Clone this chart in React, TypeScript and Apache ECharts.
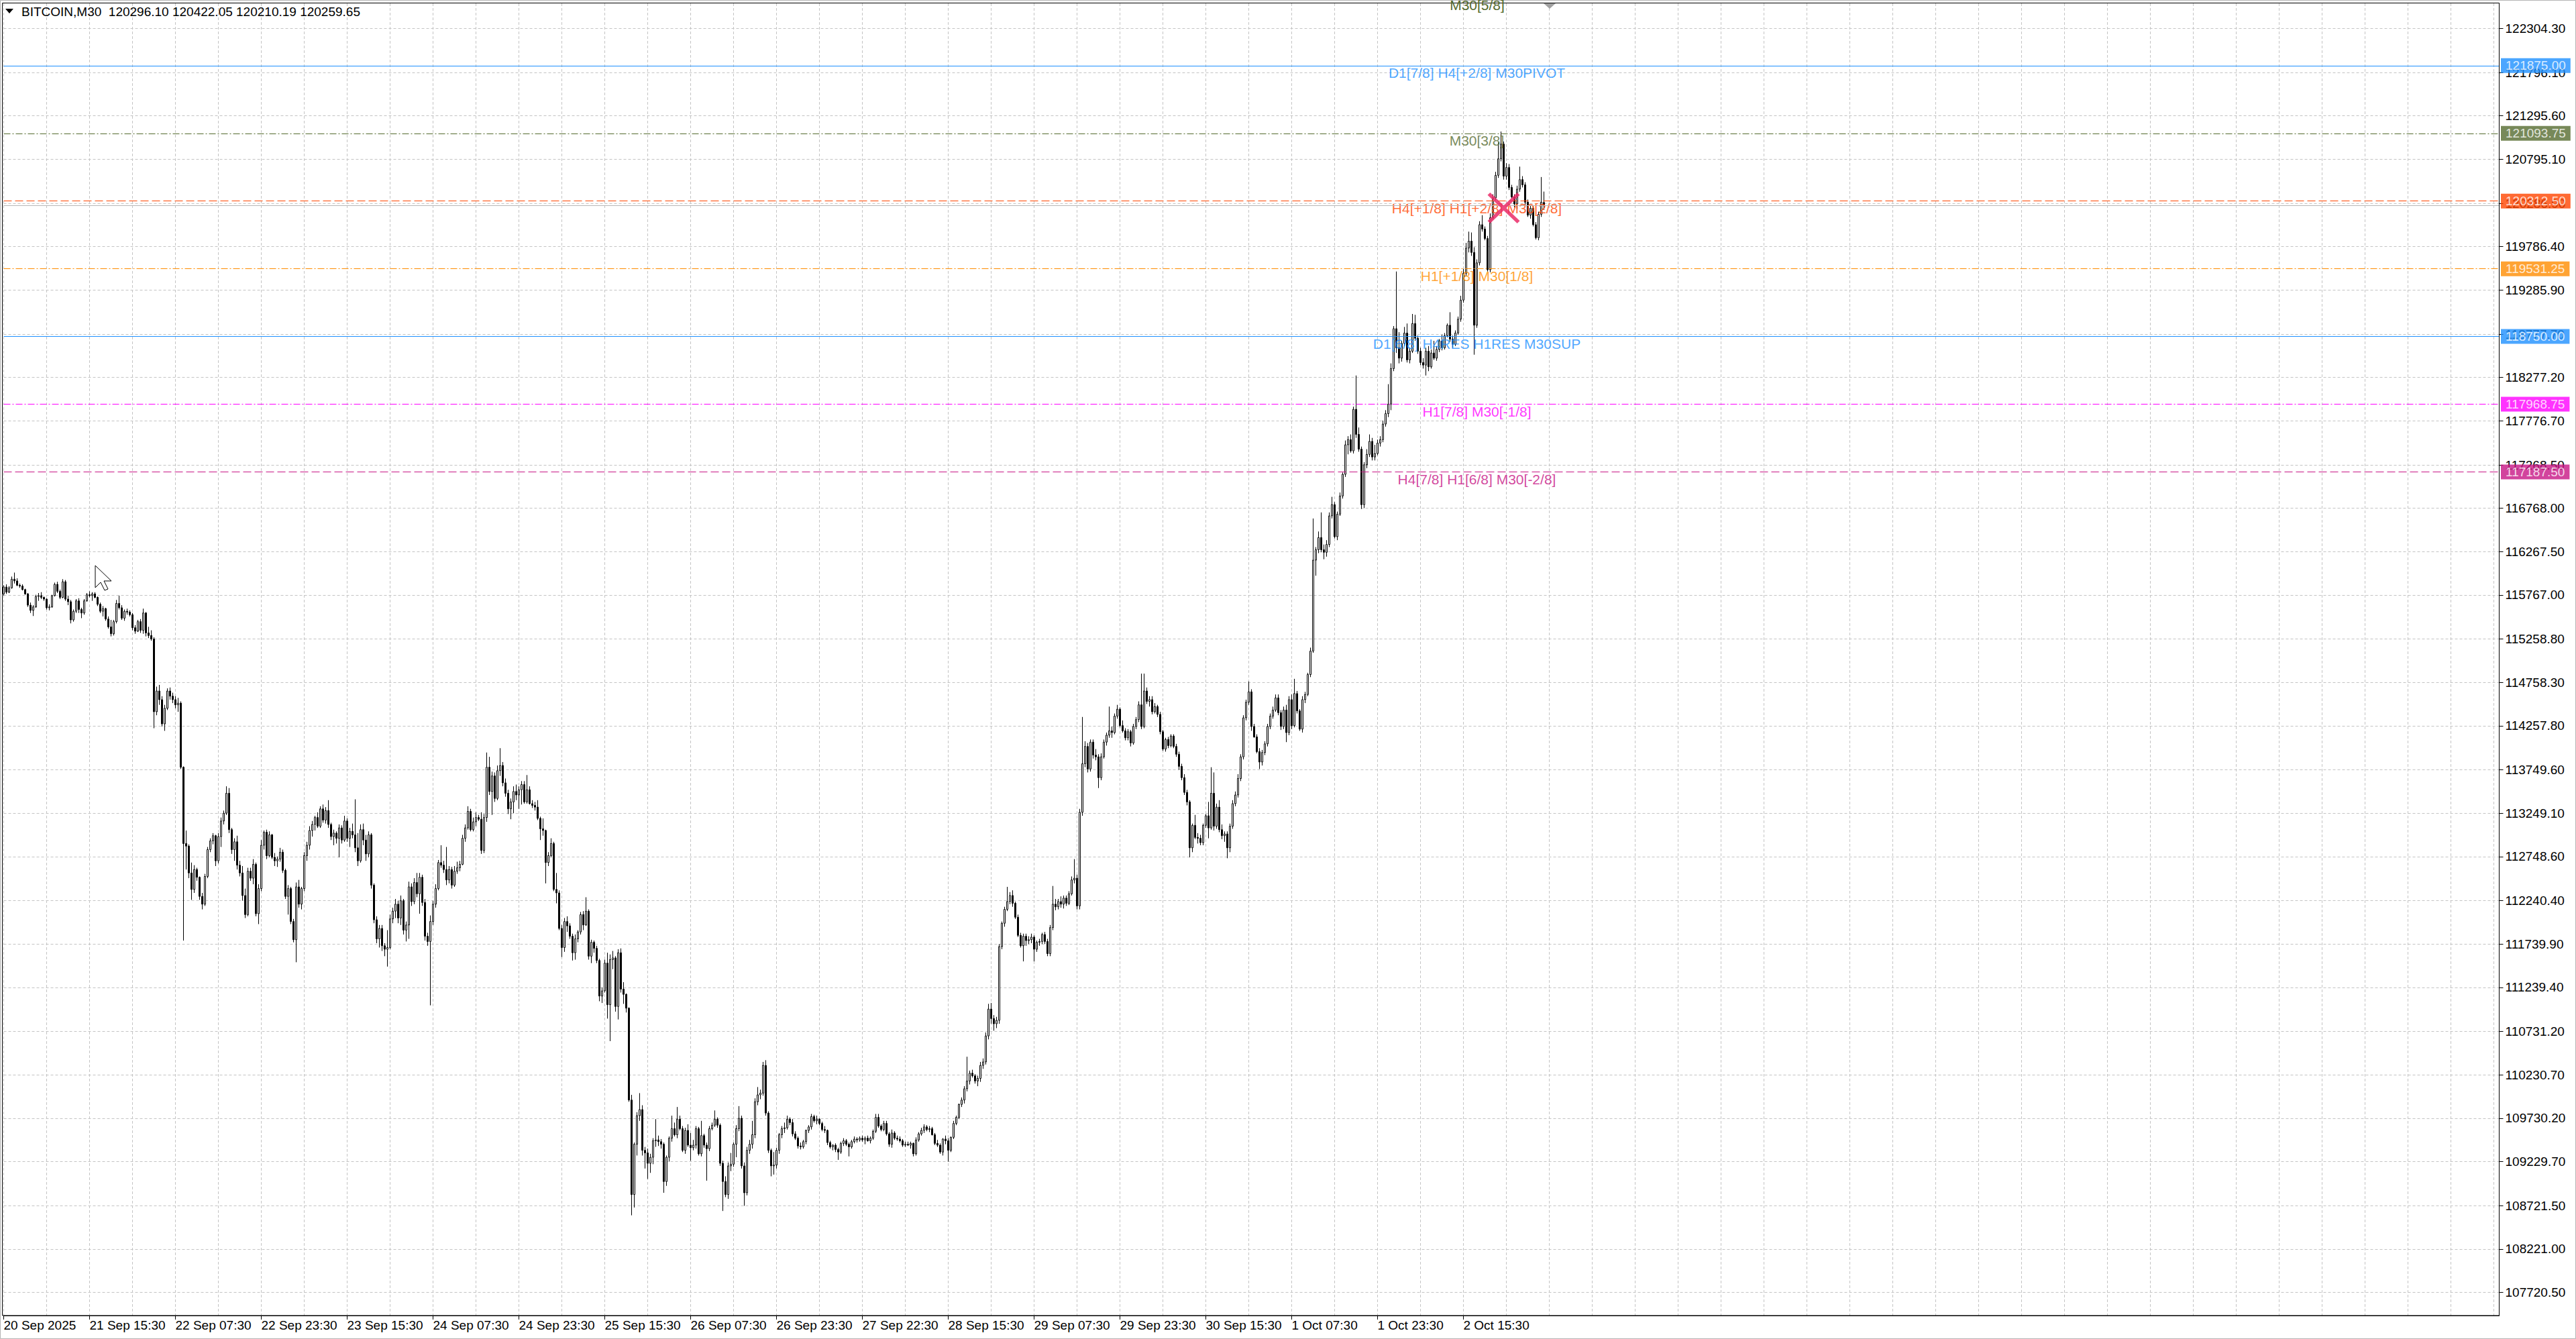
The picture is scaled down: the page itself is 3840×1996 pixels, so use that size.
import React, { useEffect, useRef } from 'react';
import * as echarts from 'echarts';

// ---------- data ----------
const symbolName = 'BITCOIN,M30';
const headerOHLC = [120296.1, 120422.05, 120210.19, 120259.65];

const xTickLabels = [
  '20 Sep 2025', '21 Sep 15:30', '22 Sep 07:30', '22 Sep 23:30', '23 Sep 15:30', '24 Sep 07:30',
  '24 Sep 23:30', '25 Sep 15:30', '26 Sep 07:30', '26 Sep 23:30', '27 Sep 22:30', '28 Sep 15:30',
  '29 Sep 07:30', '29 Sep 23:30', '30 Sep 15:30', '1 Oct 07:30', '1 Oct 23:30', '2 Oct 15:30',
];

const yTickValues = [
  122304.3, 121796.1, 121295.6, 120795.1, 120286.9, 119786.4, 119285.9, 118777.7, 118277.2, 117776.7,
  117268.5, 116768.0, 116267.5, 115767.0, 115258.8, 114758.3, 114257.8, 113749.6, 113249.1, 112748.6,
  112240.4, 111739.9, 111239.4, 110731.2, 110230.7, 109730.2, 109229.7, 108721.5, 108221.0, 107720.5,
];

const opens = [
  115780,115860,115800,115850,115950,115930,115880,115870,115830,115780,
  115650,115590,115630,115750,115760,115740,115720,115620,115630,115760,
  115890,115810,115740,115920,115720,115690,115480,115580,115700,115600,
  115560,115700,115770,115760,115780,115740,115660,115580,115610,115490,
  115400,115320,115460,115670,115620,115500,115580,115570,115540,115390,
  115350,115460,115360,115560,115330,115300,115260,114420,114660,114560,
  114280,114460,114660,114600,114560,114500,114520,113780,112900,112870,
  112560,112370,112600,112510,112290,112200,112520,112830,112930,112990,
  112700,112980,113160,113250,113480,113060,112830,112920,112650,112560,
  112300,112080,112580,112500,112660,112090,112380,112880,113030,112760,
  113000,112740,112700,112720,112800,112590,112290,112380,112000,111790,
  112400,112200,112380,112760,112880,113050,113120,113200,113100,113300,
  113170,113280,113120,112980,113020,112960,113080,112940,113160,112960,
  113040,113000,112850,112700,113060,112940,112780,113000,112420,112020,
  111800,111920,111720,111680,111700,112030,112120,112200,112040,112240,
  111900,111960,112400,112230,112450,112320,112510,112220,111830,111770,
  112000,112200,112380,112680,112650,112600,112480,112600,112420,112580,
  112620,112660,112960,113080,113270,113060,113150,113200,113180,112820,
  113200,113780,113500,113680,113420,113740,113800,113600,113480,113300,
  113380,113500,113460,113520,113580,113380,113520,113360,113340,113320,
  113190,113070,113050,112680,112760,112900,112370,112330,111920,111700,
  112000,111950,111830,111640,111800,111880,112080,111960,112120,111600,
  111760,111690,111550,111140,111200,111520,111040,111560,111580,111020,
  111640,111220,111160,111000,109940,108850,109430,109760,109830,109360,
  109330,109210,109280,109470,109480,109460,109430,109000,109280,109500,
  109610,109540,109720,109610,109360,109590,109420,109390,109420,109610,
  109320,109530,109420,109380,109610,109650,109720,109650,109210,109000,
  108850,109180,109200,109430,109610,109730,109180,108870,109360,109430,
  109540,109920,110000,110020,110340,109790,109360,109180,109190,109360,
  109540,109610,109620,109720,109680,109550,109500,109410,109400,109460,
  109590,109630,109750,109700,109720,109670,109600,109590,109450,109400,
  109420,109370,109340,109440,109470,109430,109400,109460,109490,109480,
  109500,109480,109500,109470,109500,109580,109740,109640,109600,109670,
  109550,109430,109560,109500,109490,109470,109420,109430,109420,109440,
  109320,109480,109550,109590,109630,109600,109610,109540,109440,109420,
  109340,109490,109470,109360,109510,109670,109740,109890,109940,110070,
  110160,110250,110220,110160,110190,110340,110380,110680,110990,110880,
  110820,110860,111710,111980,112140,112230,112300,112210,112050,111840,
  111720,111830,111780,111790,111820,111680,111760,111770,111850,111770,
  111630,111930,112200,112170,112230,112200,112270,112210,112320,112480,
  112500,112180,113260,113820,114020,113760,114070,113920,113900,113660,
  113900,114070,114150,114200,114180,114370,114450,114260,114200,114120,
  114190,114060,114250,114330,114500,114250,114660,114540,114560,114420,
  114480,114390,114190,113990,114100,114030,114140,114020,113930,113790,
  113660,113490,113380,112850,113110,112970,112960,112910,113110,113220,
  113080,113480,113100,113320,113060,112990,113010,112850,113100,113360,
  113460,113650,113900,114350,114530,114650,114250,114130,113960,113840,
  113950,114050,114250,114370,114440,114580,114410,114250,114440,114180,
  114560,114260,114630,114430,114220,114560,114620,114850,115120,116170,
  116290,116430,116290,116260,116350,116680,116810,116440,116700,116910,
  117160,117500,117560,117430,117910,117620,117450,116810,117270,117390,
  117540,117360,117400,117520,117560,117740,117860,117970,118380,118840,
  118620,118500,118670,118790,118480,118580,118900,118730,118580,118450,
  118420,118580,118400,118560,118500,118600,118700,118620,118760,118880,
  118720,118660,118790,118950,119170,119480,119770,119850,119720,118880,
  119600,120040,119990,119880,119520,120120,120350,120610,120800,120970,
  120600,120700,120470,120360,120280,120450,120560,120500,120300,120150,
  120230,120040,119890,120160,120296.1,
];

const highs = [
  115880,115890,115870,115980,116026,115960,115900,115890,115840,115790,
  115680,115650,115770,115790,115800,115750,115730,115660,115770,115910,
  115920,115830,115950,115940,115760,115710,115600,115720,115730,115620,
  115720,115790,115810,115800,115800,115750,115680,115640,115620,115520,
  115480,115480,115710,115760,115650,115600,115610,115590,115560,115420,
  115480,115490,115610,115570,115400,115360,115280,114710,114730,114600,
  114500,114690,114700,114640,114600,114580,114540,113790,113050,112890,
  112680,112650,112620,112520,112330,112550,112860,112960,113020,113000,
  113020,113200,113280,113560,113540,113080,112960,112990,112700,112640,
  112380,112620,112620,112720,112680,112430,112940,113050,113060,113040,
  113010,112790,112750,112850,112830,112610,112420,112400,112030,112450,
  112480,112400,112800,112920,113100,113160,113220,113260,113330,113350,
  113320,113400,113140,113060,113040,113120,113110,113220,113190,113080,
  113130,113410,113020,113120,113130,113000,113040,113020,112440,112060,
  111960,111960,111750,111900,112080,112160,112260,112240,112300,112260,
  112000,112460,112440,112500,112560,112560,112540,112260,111870,112070,
  112240,112430,112710,112880,112700,112860,112640,112630,112640,112690,
  112700,113000,113120,113330,113300,113200,113260,113230,113260,113240,
  113950,113900,113730,113720,113800,114000,113840,113650,113520,113420,
  113560,113580,113560,113620,113620,113690,113560,113400,113380,113400,
  113210,113190,113060,112800,112960,112920,112560,112360,111960,112040,
  112060,111980,111860,111850,111900,112110,112120,112280,112140,111790,
  111780,111720,111570,111240,111560,111640,111620,111660,111600,111680,
  111690,111300,111170,111010,110000,109450,109800,110020,109880,109400,
  109380,109320,109500,109720,109530,109490,109450,109300,109520,109760,
  109680,109860,109760,109640,109620,109660,109560,109480,109640,109630,
  109700,109550,109450,109640,109680,109820,109740,109670,109240,109060,
  109220,109330,109450,109650,109870,109760,109220,109400,109480,109700,
  109960,110090,110060,110380,110400,109810,109380,109340,109390,109560,
  109640,109680,109760,109740,109720,109580,109520,109450,109480,109600,
  109650,109780,109770,109760,109730,109690,109640,109600,109470,109430,
  109440,109390,109460,109500,109490,109450,109480,109520,109510,109520,
  109530,109520,109530,109520,109600,109780,109780,109660,109700,109700,
  109570,109600,109580,109530,109520,109490,109460,109460,109460,109450,
  109510,109570,109620,109660,109650,109640,109630,109560,109480,109440,
  109500,109530,109500,109520,109700,109760,109900,109970,110100,110440,
  110280,110290,110240,110220,110380,110420,110720,111050,111060,110920,
  110900,111740,112000,112170,112400,112340,112360,112230,112080,111870,
  111860,111860,111830,111860,111840,111780,111800,111870,111880,111800,
  111960,112410,112260,112260,112290,112300,112300,112350,112520,112720,
  112540,113300,114360,114080,114060,114100,114100,113990,113930,113940,
  114100,114180,114480,114250,114400,114500,114470,114320,114230,114220,
  114210,114280,114360,114540,114860,114860,114700,114600,114600,114520,
  114500,114420,114210,114120,114130,114160,114160,114050,113960,113820,
  113700,113520,113400,113130,113230,113020,113000,113130,113240,113380,
  113780,113720,113360,113400,113120,113040,113040,113130,113400,113500,
  113700,113930,114380,114560,114770,114680,114280,114160,114000,113980,
  114080,114280,114400,114480,114620,114620,114440,114480,114500,114600,
  114620,114800,114660,114450,114600,114650,114870,115160,116650,116320,
  116500,116720,116350,116400,116720,116900,116840,116730,116950,117180,
  117550,117600,117620,117940,118300,117700,117480,117300,117450,117620,
  117580,117500,117560,117600,117780,117900,118200,118440,118870,119500,
  118800,118700,118860,118900,118620,119010,119000,118760,118620,118500,
  118620,118640,118600,118700,118640,118720,118770,118790,118900,119030,
  118760,118820,118980,119220,119530,119830,119960,119950,119780,119640,
  120080,120150,120020,119910,120170,120390,120650,120990,121115,121000,
  120750,120740,120500,120390,120490,120710,120600,120530,120330,120260,
  120260,120070,120190,120590,120422.05,
];

const lows = [
  115760,115780,115790,115840,115900,115870,115850,115820,115770,115630,
  115560,115525,115620,115700,115720,115700,115600,115590,115620,115750,
  115790,115720,115730,115700,115650,115440,115460,115560,115560,115500,
  115540,115690,115740,115700,115730,115640,115560,115520,115470,115380,
  115290,115300,115440,115600,115480,115470,115540,115520,115360,115320,
  115340,115330,115320,115290,115270,115240,114230,114380,114500,114250,
  114200,114440,114560,114520,114460,114420,113760,111780,112600,112500,
  112250,112330,112470,112250,112140,112180,112500,112800,112890,112640,
  112670,112860,113120,113230,113020,112780,112700,112600,112520,112240,
  112040,112060,112470,112430,112060,111970,112350,112830,112720,112740,
  112720,112640,112630,112690,112560,112260,112080,111970,111760,111530,
  112160,112140,112350,112700,112830,112980,113050,113080,113080,113140,
  113130,113080,112940,112880,112900,112740,112900,112920,112920,112860,
  112960,112800,112640,112680,112880,112700,112740,112380,111980,111750,
  111700,111660,111600,111480,111680,111980,112040,111980,111960,111850,
  111770,111800,112180,112200,112280,112090,112180,111780,111720,111033,
  111960,112160,112360,112620,112560,112420,112440,112380,112400,112550,
  112580,112650,112920,113060,113040,113040,113100,113160,112780,112790,
  113150,113460,113230,113380,113400,113680,113560,113440,113240,113180,
  113250,113400,113300,113350,113360,113360,113350,113310,113280,113170,
  112940,112990,112440,112640,112740,112350,112210,111900,111590,111650,
  111880,111800,111550,111560,111760,111850,111900,111950,111560,111520,
  111640,111520,111080,111060,111180,110880,110620,111450,110960,110870,
  111180,111050,110950,109920,108610,108700,109300,109700,109300,109150,
  109030,109100,109200,109400,109410,109380,108870,108950,109230,109460,
  109520,109500,109590,109340,109320,109400,109240,109360,109380,109300,
  109290,109390,109010,109350,109590,109630,109620,109180,108660,108820,
  108800,109120,109170,109280,109580,109150,108720,108840,109320,109380,
  109500,109880,109950,109990,109760,109330,109060,109080,109150,109320,
  109500,109560,109600,109650,109520,109480,109380,109370,109380,109430,
  109560,109600,109680,109660,109650,109580,109560,109420,109380,109360,
  109340,109250,109320,109410,109410,109290,109380,109440,109450,109460,
  109460,109430,109460,109440,109480,109560,109620,109580,109580,109530,
  109400,109390,109480,109470,109450,109400,109400,109410,109380,109290,
  109300,109460,109530,109560,109580,109570,109530,109420,109400,109320,
  109300,109430,109230,109340,109490,109650,109720,109860,109900,110040,
  110120,110200,110130,110100,110150,110300,110350,110640,110820,110740,
  110770,110820,111680,111940,112120,112200,112170,112030,111820,111700,
  111540,111720,111740,111750,111540,111650,111720,111740,111740,111600,
  111600,111900,112130,112140,112160,112150,112180,112190,112300,112440,
  112140,112140,113220,113780,113720,113730,113880,113860,113540,113630,
  113880,114030,114120,114120,114160,114340,114240,114180,114090,114090,
  114020,114040,114220,114300,114220,114230,114510,114480,114390,114400,
  114360,114160,113970,113960,114000,114010,114000,113900,113750,113630,
  113460,113340,112740,112800,112950,112900,112880,112880,113080,112960,
  113060,113050,113070,113030,112950,112920,112730,112800,113070,113330,
  113430,113620,113870,114320,114500,114200,114120,113940,113760,113800,
  113920,114020,114220,114340,114420,114380,114210,114220,114070,114150,
  114220,114240,114400,114200,114180,114520,114600,114820,115100,115990,
  116250,116260,116180,116210,116320,116650,116420,116400,116680,116880,
  117130,117390,117410,117400,117580,117420,116760,116770,117230,117360,
  117320,117320,117380,117480,117530,117710,117820,117900,118350,118560,
  118440,118460,118640,118450,118440,118560,118700,118550,118420,118380,
  118300,118350,118380,118480,118470,118570,118590,118600,118740,118690,
  118620,118640,118770,118920,119140,119450,119720,119680,118540,118850,
  119570,119960,119860,119500,119490,120100,120320,120580,120770,120560,
  120560,120440,120340,120240,120220,120420,120470,120260,120130,120110,
  120020,119870,119860,120130,120210.19,
];

const closes = [
  115860,115800,115850,115950,115930,115880,115870,115830,115780,115650,
  115590,115630,115750,115760,115740,115720,115620,115630,115760,115890,
  115810,115740,115920,115720,115690,115480,115580,115700,115600,115560,
  115700,115770,115760,115780,115740,115660,115580,115610,115490,115400,
  115320,115460,115670,115620,115500,115580,115570,115540,115390,115350,
  115460,115360,115560,115330,115300,115260,114420,114660,114560,114280,
  114460,114660,114600,114560,114500,114520,113780,112900,112870,112560,
  112370,112600,112510,112290,112200,112520,112830,112930,112990,112700,
  112980,113160,113250,113480,113060,112830,112920,112650,112560,112300,
  112080,112580,112500,112660,112090,112380,112880,113030,112760,113000,
  112740,112700,112720,112800,112590,112290,112380,112000,111790,112400,
  112200,112380,112760,112880,113050,113120,113200,113100,113300,113170,
  113280,113120,112980,113020,112960,113080,112940,113160,112960,113040,
  113000,112850,112700,113060,112940,112780,113000,112420,112020,111800,
  111920,111720,111680,111700,112030,112120,112200,112040,112240,111900,
  111960,112400,112230,112450,112320,112510,112220,111830,111770,112000,
  112200,112380,112680,112650,112600,112480,112600,112420,112580,112620,
  112660,112960,113080,113270,113060,113150,113200,113180,112820,113200,
  113780,113500,113680,113420,113740,113800,113600,113480,113300,113380,
  113500,113460,113520,113580,113380,113520,113360,113340,113320,113190,
  113070,113050,112680,112760,112900,112370,112330,111920,111700,112000,
  111950,111830,111640,111800,111880,112080,111960,112120,111600,111760,
  111690,111550,111140,111200,111520,111040,111560,111580,111020,111640,
  111220,111160,111000,109940,108850,109430,109760,109830,109360,109330,
  109210,109280,109470,109480,109460,109430,109000,109280,109500,109610,
  109540,109720,109610,109360,109590,109420,109390,109420,109610,109320,
  109530,109420,109380,109610,109650,109720,109650,109210,109000,108850,
  109180,109200,109430,109610,109730,109180,108870,109360,109430,109540,
  109920,110000,110020,110340,109790,109360,109180,109190,109360,109540,
  109610,109620,109720,109680,109550,109500,109410,109400,109460,109590,
  109630,109750,109700,109720,109670,109600,109590,109450,109400,109420,
  109370,109340,109440,109470,109430,109400,109460,109490,109480,109500,
  109480,109500,109470,109500,109580,109740,109640,109600,109670,109550,
  109430,109560,109500,109490,109470,109420,109430,109420,109440,109320,
  109480,109550,109590,109630,109600,109610,109540,109440,109420,109340,
  109490,109470,109360,109510,109670,109740,109890,109940,110070,110160,
  110250,110220,110160,110190,110340,110380,110680,110990,110880,110820,
  110860,111710,111980,112140,112230,112300,112210,112050,111840,111720,
  111830,111780,111790,111820,111680,111760,111770,111850,111770,111630,
  111930,112200,112170,112230,112200,112270,112210,112320,112480,112500,
  112180,113260,113820,114020,113760,114070,113920,113900,113660,113900,
  114070,114150,114200,114180,114370,114450,114260,114200,114120,114190,
  114060,114250,114330,114500,114250,114660,114540,114560,114420,114480,
  114390,114190,113990,114100,114030,114140,114020,113930,113790,113660,
  113490,113380,112850,113110,112970,112960,112910,113110,113220,113080,
  113480,113100,113320,113060,112990,113010,112850,113100,113360,113460,
  113650,113900,114350,114530,114650,114250,114130,113960,113840,113950,
  114050,114250,114370,114440,114580,114410,114250,114440,114180,114560,
  114260,114630,114430,114220,114560,114620,114850,115120,116170,116290,
  116430,116290,116260,116350,116680,116810,116440,116700,116910,117160,
  117500,117560,117430,117910,117620,117450,116810,117270,117390,117540,
  117360,117400,117520,117560,117740,117860,117970,118380,118840,118620,
  118500,118670,118790,118480,118580,118900,118730,118580,118450,118420,
  118580,118400,118560,118500,118600,118700,118620,118760,118880,118720,
  118660,118790,118950,119170,119480,119770,119850,119720,118880,119600,
  120040,119990,119880,119520,120120,120350,120610,120800,120970,120600,
  120700,120470,120360,120280,120450,120560,120500,120300,120150,120230,
  120040,119890,120160,120300,120259.65,
];

const levelPrices = [121875, 121093.75, 120312.5, 119531.25, 118750, 117968.75, 117187.5];
const levelNames = [
  'D1[7/8] H4[+2/8] M30PIVOT',
  'M30[3/8]',
  'H4[+1/8] H1[+2/8] M30[2/8]',
  'H1[+1/8] M30[1/8]',
  'D1[6/8] H4RES H1RES M30SUP',
  'H1[7/8] M30[-1/8]',
  'H4[7/8] H1[6/8] M30[-2/8]',
];
const topLevelName = 'M30[5/8]';
const bidPrice = 120259.65;
const crossMark = [559, 120233];

// ---------- styles ----------
const levelColors = ['#1E90FF', '#556B2F', '#FF4500', '#FF8C00', '#1E90FF', '#FF00FF', '#C71585'];
const DASHDOT = [10, 3, 2, 3];
const DASH = [12, 5];
const levelDash: any[] = ['solid', DASHDOT, DASH, DASHDOT, 'solid', DASHDOT, DASH];
const FONT = '"Liberation Sans", Arial, sans-serif';
const SLOTS = 931;
const SLOT_PX = 4;
const GRID_LEFT = 5.5;
const LABEL_STEP = 32;
const LEVEL_LABEL_SLOT = 549;

function buildOption() {
  const categories = Array.from({ length: SLOTS }, (_, i) => String(i));
  const candleData = opens.map((o, i) => [o, closes[i], lows[i], highs[i]]);
  const showTick = (i: number) => i % LABEL_STEP === 0 && i / LABEL_STEP < xTickLabels.length;
  const gridWidth = SLOT_PX * (SLOTS - 1);
  const gridRight = 3840 - GRID_LEFT - gridWidth;

  const markLineData: any[] = levelPrices.map((p, i) => ({
    yAxis: p,
    lineStyle: { color: levelColors[i], type: levelDash[i], width: 1 },
  }));
  markLineData.push({
    yAxis: bidPrice,
    lineStyle: { color: '#b8b8b8', type: 'solid', width: 1 },
  });

  const headerText =
    symbolName + '\u00a0 ' + headerOHLC.map((v) => v.toFixed(2)).join(' ');

  return {
    animation: false,
    backgroundColor: '#ffffff',
    grid: {
      left: GRID_LEFT, right: gridRight, top: 5, bottom: 35,
      containLabel: false,
      outerBoundsMode: 'none',
    },
    xAxis: {
      type: 'category',
      data: categories,
      boundaryGap: false,
      axisLine: { show: true, onZero: false, lineStyle: { color: '#000000', width: 1 } },
      axisTick: { show: true, interval: (i: number) => showTick(i), length: 6, lineStyle: { color: '#000000' } },
      axisLabel: {
        show: true,
        interval: (i: number) => showTick(i),
        formatter: (v: string) => xTickLabels[Number(v) / LABEL_STEP] ?? '',
        align: 'left',
        color: '#000000',
        fontSize: 19,
        fontFamily: FONT,
        margin: 5,
        hideOverlap: false,
      },
      splitLine: { show: true, interval: 15, lineStyle: { color: '#c4c4c4', type: [4, 3], width: 1 } },
    },
    yAxis: {
      type: 'value',
      position: 'right',
      min: 107453.9,
      max: 122593.8,
      axisLine: { show: true, onZero: false, lineStyle: { color: '#000000', width: 1 } },
      axisTick: { show: true, customValues: yTickValues, length: 6, lineStyle: { color: '#000000' } },
      axisLabel: {
        show: true,
        customValues: yTickValues,
        formatter: (v: number) => v.toFixed(2),
        color: '#000000',
        fontSize: 19,
        fontFamily: FONT,
        margin: 9,
        hideOverlap: false,
      },
      splitLine: { show: true, lineStyle: { color: '#c4c4c4', type: [4, 3], width: 1 } },
    },
    series: [
      {
        type: 'candlestick',
        data: candleData,
        barWidth: 2,
        clip: false,
        z: 3,
        itemStyle: {
          color: '#ffffff',
          color0: '#000000',
          borderColor: '#000000',
          borderColor0: '#000000',
          borderColorDoji: '#000000',
          borderWidth: 1,
        },
        markLine: {
          silent: true,
          symbol: ['none', 'none'],
          animation: false,
          label: { show: false },
          data: markLineData,
        },
        markPoint: {
          silent: true,
          animation: false,
          data: [
            {
              coord: crossMark,
              symbol:
                'path://M8,0 L50,42 L92,0 L100,8 L58,50 L100,92 L92,100 L50,58 L8,100 L0,92 L42,50 L0,8 Z',
              symbolSize: [48, 46],
              itemStyle: { color: 'rgba(234,44,104,0.85)' },
              label: { show: false },
            },
          ],
        },
      },
      {
        type: 'scatter',
        silent: true,
        clip: false,
        z: 4,
        symbolSize: 1,
        itemStyle: { color: 'rgba(0,0,0,0)' },
        data: levelPrices.map((p, i) => ({
          value: [LEVEL_LABEL_SLOT, p],
          label: { color: levelColors[i] },
        })),
        label: {
          show: true,
          position: 'bottom',
          distance: 0,
          formatter: (pp: any) => levelNames[pp.dataIndex],
          fontSize: 21,
          fontFamily: FONT,
        },
      },
      {
        type: 'scatter',
        silent: true,
        clip: false,
        z: 6,
        symbolSize: 1,
        itemStyle: { color: 'rgba(0,0,0,0)' },
        data: levelPrices.map((p, i) => ({
          value: [SLOTS - 1, p],
          label: { backgroundColor: levelColors[i] },
        })),
        label: {
          show: true,
          position: 'right',
          distance: 2,
          offset: [0, 5],
          formatter: (pp: any) => levelPrices[pp.dataIndex].toFixed(2),
          color: '#ffffff',
          padding: [1, 7, 1, 7],
          lineHeight: 20,
          fontSize: 19,
          fontFamily: FONT,
        },
        labelLayout: { hideOverlap: false },
      },
    ],
    graphic: [
      {
        type: 'rect',
        silent: true,
        z: 10,
        shape: { x: 0.5, y: 0.5, width: 3839, height: 1995 },
        style: { fill: 'none', stroke: '#b4b4b4', lineWidth: 1 },
      },
      {
        type: 'rect',
        silent: true,
        z: 10,
        shape: { x: 3.5, y: 4.5, width: GRID_LEFT + gridWidth - 3.5, height: 1956.5 },
        style: { fill: 'none', stroke: '#000000', lineWidth: 1 },
      },
      {
        type: 'polygon',
        silent: true,
        z: 11,
        shape: { points: [[8, 13], [20, 13], [14, 20]] },
        style: { fill: '#000000' },
      },
      {
        type: 'text',
        silent: true,
        z: 11,
        x: 32,
        y: 17,
        style: {
          text: headerText,
          fontSize: 19,
          fontFamily: FONT,
          fill: '#000000',
          verticalAlign: 'middle',
          align: 'left',
        },
      },
      {
        type: 'text',
        silent: true,
        z: 11,
        x: 2202,
        y: -3,
        style: {
          text: topLevelName,
          fontSize: 21,
          fontFamily: FONT,
          fill: levelColors[1],
          align: 'center',
          verticalAlign: 'top',
        },
      },
      {
        type: 'polygon',
        silent: true,
        z: 11,
        shape: { points: [[2301, 5], [2319, 5], [2310, 13]] },
        style: { fill: '#a0a0a0' },
      },
      {
        type: 'polygon',
        silent: true,
        z: 11,
        shape: { points: [[142, 843], [142, 876], [150, 868], [156, 880], [161, 878], [155, 866], [166, 866]] },
        style: { fill: '#ffffff', stroke: '#000000', lineWidth: 1 },
      },
    ],
  };
}

export default function App() {
  const ref = useRef<HTMLDivElement>(null);
  useEffect(() => {
    document.body.style.margin = '0';
    const chart = echarts.init(ref.current as HTMLDivElement, null, { renderer: 'svg' });
    chart.setOption(buildOption() as any);
    return () => {
      chart.dispose();
    };
  }, []);
  return <div ref={ref} style={{ width: 3840, height: 1996, background: '#ffffff' }} />;
}
